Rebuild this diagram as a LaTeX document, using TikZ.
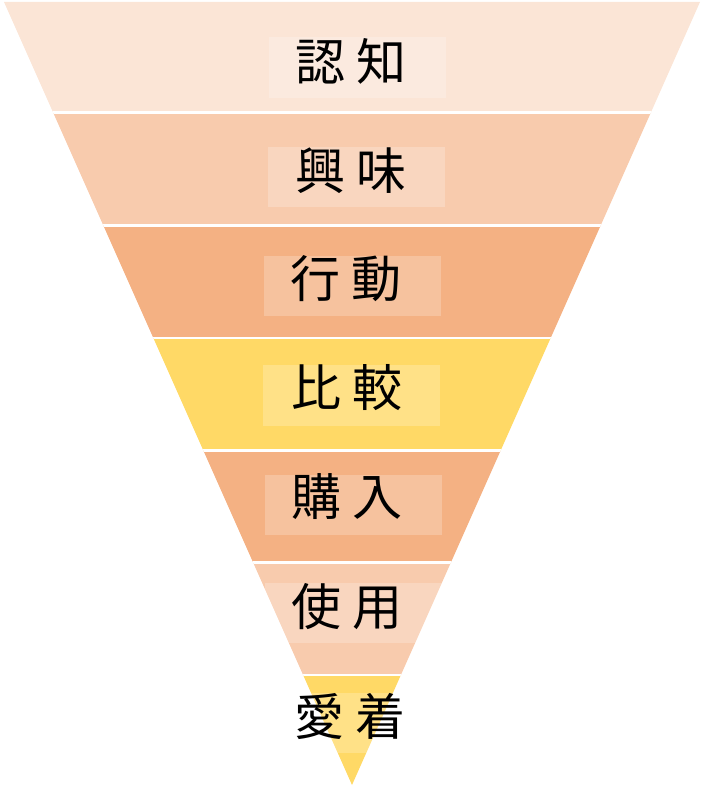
\documentclass[tikz,border=0pt]{standalone}
\usepackage{fontspec}
\newfontfamily\jpfont{Noto Sans CJK JP}
\definecolor{bandA}{HTML}{FBE5D6}
\definecolor{bandB}{HTML}{F8CBAD}
\definecolor{bandC}{HTML}{F4B183}
\definecolor{bandD}{HTML}{FFD966}
\tikzset{
  lbl/.style={anchor=base, inner sep=0pt, font=\jpfont\fontsize{50}{50}\selectfont, text=black},
  hilite/.style={fill=white, fill opacity=0.22},
  sep/.style={draw=white, line width=2.6pt},
}
\newcommand{\jj}[2]{#1\hspace{11pt}#2}
\begin{document}
\begin{tikzpicture}[x=1pt,y=-1pt]
\useasboundingbox (0,0) rectangle (704,791);
\coordinate (tl) at (4,2);
\coordinate (tr) at (700,2);
\coordinate (ap) at (352,785);
\begin{scope}
  \clip (tl) -- (tr) -- (ap) -- cycle;
  \fill[bandA] (0,0) rectangle (704,112.5);
  \fill[bandB] (0,112.5) rectangle (704,225.5);
  \fill[bandC] (0,225.5) rectangle (704,338);
  \fill[bandD] (0,338) rectangle (704,450.5);
  \fill[bandC] (0,450.5) rectangle (704,562.5);
  \fill[bandB] (0,562.5) rectangle (704,675);
  \fill[bandD] (0,675) rectangle (704,791);
  \fill[hilite] (269,37) rectangle (446,98);
  \fill[hilite] (268,147) rectangle (445,207);
  \fill[hilite] (264,256) rectangle (441,316);
  \fill[hilite] (263,365) rectangle (440,426);
  \fill[hilite] (265,475) rectangle (442,535);
  \fill[hilite] (265,583) rectangle (442,643);
  \fill[hilite] (265,693) rectangle (442,753);
  \foreach \y in {112.5,225.5,338,450.5,562.5,675}
    \draw[sep] (0,\y) -- (704,\y);
\end{scope}
\node[lbl] (n1) at (350.5,80.5) {\jj{認}{知}};
\node[lbl] (n2) at (351,190) {\jj{興}{味}};
\node[lbl] (n3) at (346,297.5) {\jj{行}{動}};
\node[lbl] (n4) at (346.5,406.5) {\jj{比}{較}};
\node[lbl] (n5) at (347,515.5) {\jj{購}{入}};
\node[lbl] (n6) at (347,625.5) {\jj{使}{用}};
\node[lbl] (n7) at (349.5,735) {\jj{愛}{着}};
\end{tikzpicture}
\end{document}
